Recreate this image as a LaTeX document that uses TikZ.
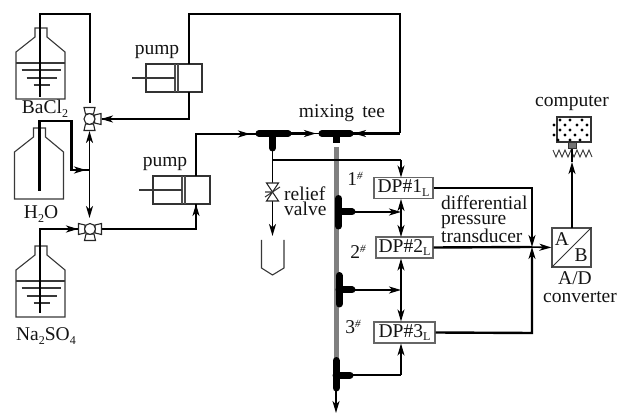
\documentclass[tikz,border=0pt]{standalone}
\usepackage{fontspec}
\setmainfont{Liberation Serif}
\usetikzlibrary{arrows.meta,positioning}
\newcommand{\sbs}[1]{\raisebox{-3.5pt}{\fontsize{12}{12}\selectfont #1}}
\newcommand{\sps}[1]{\raisebox{6pt}{\fontsize{11}{11}\selectfont\itshape #1}}
\tikzset{
  x=1pt,y=-1pt,
  ink/.style={draw=black!78,line width=1.1pt},
  pipe/.style={draw=black,line width=2.4pt,line join=miter},
  sig/.style={draw=black,line width=1.6pt},
  tip/.style={-{Stealth[length=12pt,width=7pt,inset=3.5pt]}},
  tipb/.style={{Stealth[length=12pt,width=7pt,inset=3.5pt]}-{Stealth[length=12pt,width=7pt,inset=3.5pt]}},
  tee/.style={draw=black,line width=7pt,line cap=round},
  lab/.style={font=\fontsize{19.5}{19.5}\selectfont,text=black!92,inner sep=0pt,anchor=base},
  llab/.style={lab,anchor=base west},
  dpbox/.style={draw=black!60,line width=1.2pt,fill=white,inner sep=0pt,minimum height=21pt,text height=13pt,text depth=3pt,font=\fontsize{19.5}{19.5}\selectfont,text=black!92},
  cyl/.style={draw=black!80,line width=1.1pt,fill=white,minimum width=56pt,minimum height=28pt,inner sep=0pt},
  port/.style={draw=black!85,line width=1.1pt,fill=white},
  pics/bottle/.style={code={
    \draw[ink,line join=miter] (-24.5,0)--(-24.5,-47)--(-5.5,-62)--(-5.5,-71)--(6.5,-71)--(6.5,-62)--(24.5,-47)--(24.5,0)--cycle;
  }},
  pics/liquid/.style={code={
    \draw[ink] (-24.5,-36)--(24.5,-36);
    \draw[ink] (-19,-29)--(20,-29) (-14,-21)--(16,-21) (-7,-14)--(9,-14);
  }},
  pics/vport/.style={code={
    \draw[port] (5,-4)--(11.5,-5.5)--(11.5,5.5)--(5,4)--cycle;
  }}
}
\begin{document}
\begin{tikzpicture}
\useasboundingbox (0,0) rectangle (619,414);
% bottles
\coordinate (b1) at (40.5,99);
\coordinate (b2) at (39,199);
\coordinate (b3) at (40.5,317);
\pic at (b1) {bottle}; \pic at (b1) {liquid};
\pic at (b2) {bottle};
\pic at (b3) {bottle}; \pic at (b3) {liquid};
% coordinates
\coordinate (v1) at (89.5,119);
\coordinate (v2) at (90,229);
\coordinate (t1) at (40,97);
\coordinate (t1a) at (40,14);
\coordinate (t1b) at (90,14);
\coordinate (t1c) at (90,103);
\coordinate (t2) at (39.5,191);
\coordinate (t2a) at (39.5,121);
\coordinate (t2b) at (71.5,121);
\coordinate (t2c) at (71.5,170);
\coordinate (t2d) at (89.5,170);
\coordinate (t2m) at (86,170);
\coordinate (t3) at (40,313);
\coordinate (t3a) at (40,229);
\coordinate (t3m) at (78,229);
% pumps
\node[cyl] (p1) at (174,78) {};
\node[cyl,minimum width=57pt] (p2) at (181.5,190) {};
\node[lab] (p1l) at (157,55) {pump};
\node[lab] (p2l) at (165,167) {pump};
\draw[draw=black!70,line width=1.1pt] (175,64)--(175,92) (178,64)--(178,92);
\draw[draw=black!70,line width=1.1pt] (182,176)--(182,204) (185,176)--(185,204);
\coordinate (r1) at (132,78); \coordinate (r1e) at (175,78);
\coordinate (r2) at (139,190); \coordinate (r2e) at (182,190);
\draw[ink] (r1)--(r1e); \draw[ink] (r2)--(r2e);
% bottle lines
\draw[pipe,line width=2pt] (t1)--(t1a)--(t1b)--(t1c);
\draw[pipe] (t2)--(t2a)--(t2b)--(t2c)--(t2d);
\draw[pipe,tip] (t2c)--(t2m);
\draw[pipe] (t3)--(t3a)--(v2);
\draw[pipe,tip] (t3a)--(t3m);
\draw[sig,line width=1.8pt,tipb] (89.5,131)--(89.5,218);
% pump 1 lines
\coordinate (tee2in) at (400,133.5);
\coordinate (a1) at (400,14);
\coordinate (a2) at (188.7,14);
\coordinate (a3) at (188.7,64);
\coordinate (a4) at (188.7,92);
\coordinate (a5) at (188.7,119);
\coordinate (a6) at (101,119);
\draw[pipe] (tee2in)--(a1)--(a2)--(a3);
\draw[pipe] (a4)--(a5)--(102,119);
\draw[sig,tip] (112,119)--(a6);
% pump 2 lines
\coordinate (c1) at (196,204);
\coordinate (c2) at (196,229);
\coordinate (c3) at (196,176);
\coordinate (c4) at (196,134);
\coordinate (c5) at (256,134);
\draw[pipe] (v2)--(c2)--(c1);
\draw[sig,tip] (c2)--(c1);
\draw[pipe] (c3)--(c4)--(c5);
\draw[pipe,tip] (c4)--(250,134);
% valves
\coordinate (v1c) at (89.5,119);
\foreach \r in {-90,0,90} \pic[rotate=\r] at (v1c) {vport};
\foreach \r in {-90,0,180} \pic[rotate=\r] at (v2) {vport};
\node[circle,draw=black!85,line width=1.1pt,fill=white,minimum size=11pt,inner sep=0pt] (vc1) at (v1c) {};
\node[circle,draw=black!85,line width=1.1pt,fill=white,minimum size=11pt,inner sep=0pt] (vc2) at (v2) {};
% gray main pipe
\coordinate (g1) at (336,147);
\coordinate (g2) at (336,360);
\draw[draw=black!50,line width=5pt] (g1)--(g2);
% tees
\coordinate (T1a) at (259,133.5); \coordinate (T1b) at (288,133.5); \coordinate (T1s) at (272.5,148);
\coordinate (T2a) at (322,133.5); \coordinate (T2b) at (350,133.5); \coordinate (T2s) at (336,143);
\draw[tee] (T1a)--(T1b); \draw[draw=black,line width=7pt,line cap=round] (272.5,134)--(T1s);
\draw[tee] (T2a)--(T2b); \draw[draw=black,line width=7pt] (336,134)--(T2s);
\draw[sig,line width=1.8pt] (T1b)--(T2a);
\draw[pipe,tip] (T1b)--(316,133.5);
\draw[pipe] (353,133.5)--(tee2in);
\draw[sig,tip] (372,133.5)--(354,133.5);
% side tees
\coordinate (s1a) at (338.5,198.5); \coordinate (s1b) at (338.5,226);
\coordinate (s1c) at (352,212);
\coordinate (s2a) at (339,275.5); \coordinate (s2b) at (339,304);
\coordinate (s2c) at (352,290);
\coordinate (s3a) at (336,360.5); \coordinate (s3b) at (336,388);
\coordinate (s3c) at (350,375);
\draw[tee] (s1a)--(s1b); \draw[tee] (338.5,212)--(s1c);
\draw[tee] (s2a)--(s2b); \draw[tee] (339,290)--(s2c);
\draw[tee] (s3a)--(s3b); \draw[tee] (336,375)--(s3c);
\coordinate (outl) at (336,413);
\draw[sig,line width=1.8pt,tip] (s3b)--(outl);
% DP boxes
\node[dpbox,minimum width=59pt] (dp1) at (403.5,188) {DP\#1\sbs{L}};
\node[dpbox,minimum width=57pt] (dp2) at (404.5,247.5) {DP\#2\sbs{L}};
\node[dpbox,minimum width=61pt] (dp3) at (404.5,332.5) {DP\#3\sbs{L}};
% relief branch
\coordinate (j1) at (272.5,160);
\coordinate (j2) at (401,160);
\coordinate (rv) at (272.5,192);
\coordinate (rvout) at (272.5,236);
\draw[sig] (T1s)--(j1)--(j2);
\draw[sig,tip] (j2)--(401,177.5);
\draw[sig] (j1)--(272.5,183);
\draw[sig,tip] (272.5,201)--(rvout);
\draw[port] (266.5,183)--(278.5,183)--(266.5,201)--(278.5,201)--cycle;
\draw[ink] (265,197)--(280,187) (272.5,192)--(265,192);
\coordinate (u1) at (261.5,240); \coordinate (u2) at (261.5,268); \coordinate (u3) at (272.5,275);
\coordinate (u4) at (284,268); \coordinate (u5) at (284,240);
\draw[ink] (u1)--(u2)--(u3)--(u4)--(u5);
% DP connections
\coordinate (k1) at (401,212);
\coordinate (k2) at (401,290);
\coordinate (k3) at (401,375);
\draw[sig,tipb] (401,199)--(401,237);
\draw[sig,tipb] (401,258.5)--(401,321.5);
\draw[sig,tip] (s1c)--(k1);
\draw[sig,tip] (s2c)--(k2);
\draw[sig] (s3c)--(k3);
\draw[sig,tip] (k3)--(401,343.5);
% outputs
\node[draw=black!70,line width=1.2pt,fill=white,minimum size=39pt,inner sep=0pt] (ab) at (571.5,247.5) {};
\draw[draw=black!80,line width=1pt] (ab.south west)--(ab.north east);
\node[lab] (A) at (562,246) {A};
\node[lab] (B) at (581,262) {B};
\coordinate (e1) at (532,188);
\coordinate (e2) at (532,333);
\coordinate (e3) at (532,247);
\draw[pipe] (dp1.east)--(e1)--(532,236);
\draw[sig,tip] (532,225)--(e3);
\draw[pipe] (dp2.east)--(530,247);
\draw[sig,tip] (530,247)--(ab.west);
\draw[pipe] (dp3.east)--(e2)--(532,258);
\draw[sig,tip] (532,270)--(e3);
% computer
\node[draw=black!80,line width=1.2pt,minimum width=34pt,minimum height=25pt,inner sep=0pt] (pc) at (574,129.5) {};
\foreach \px/\py in {554/125,554/135,560/120,570/120,582/120,565/125,577/125,587/125,560/130,570/130,582/130,565/135,575/135,587/135,558/140,570/140,580/140}
  \fill[black] (\px,\py) circle (1.6pt);
\node[draw=black!80,fill=black!55,line width=.8pt,minimum width=8pt,minimum height=6pt,inner sep=0pt] (st) at (572,145.5) {};
\draw[draw=black!80,line width=.9pt] (553,150)--(556,157)--(559,150)--(562,157)--(565,150)--(568,157)--(571,150)--(574,157)--(577,150)--(580,157)--(583,150)--(586,157)--(589,150)--(592,157);
\coordinate (abt) at (572,228);
\draw[sig,tip] (abt)--(572,162);
\draw[sig] (572,162)--(st.south);
% labels
\node[lab] (lb1) at (45,114) {BaCl\sbs{2}};
\node[lab] (lb2) at (41,219) {H\sbs{2}O};
\node[lab] (lb3) at (46,341) {Na\sbs{2}SO\sbs{4}};
\node[lab] (lmix) at (342,117.5) {mixing\, tee};
\node[lab] (l1) at (355,186) {1\sps{\#}};
\node[lab] (l2) at (358,259) {2\sps{\#}};
\node[lab] (l3) at (353,334) {3\sps{\#}};
\node[llab] (lr) at (284,201) {relief};
\node[llab] (lv) at (284,216) {valve};
\node[llab] (ld1) at (441,209.5) {differential};
\node[llab] (ld2) at (441,225) {pressure};
\node[llab] (ld3) at (441,243) {transducer};
\node[lab] (lad) at (575,285) {A/D};
\node[lab] (lcv) at (580,302) {converter};
\node[lab] (lpc) at (572,107) {computer};
\end{tikzpicture}
\end{document}
